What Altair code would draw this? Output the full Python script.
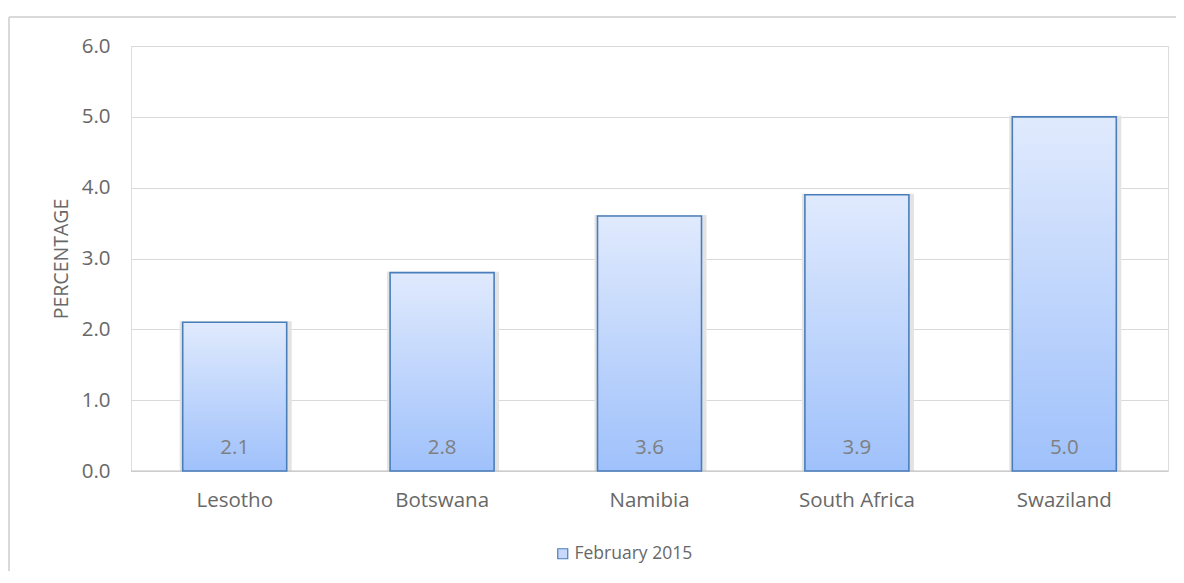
import altair as alt
import pandas as pd

countries = ["Lesotho", "Botswana", "Namibia", "South Africa", "Swaziland"]
values = [2.1, 2.8, 3.6, 3.9, 5.0]
series = ["February 2015"] * 5

df = pd.DataFrame({"country": countries, "value": values, "series": series})

FONT = "Open Sans"
W, H = 1037, 425
LABEL_GRAY = "#686868"

gradient = alt.Gradient(
    gradient="linear",
    stops=[alt.GradientStop(color="#e0eafd", offset=0),
           alt.GradientStop(color="#9fc1fb", offset=1)],
    x1=0, x2=0, y1=0, y2=1,
)

x = alt.X("country:N", sort=countries, title=None,
          scale=alt.Scale(paddingInner=0.5, paddingOuter=0.25),
          axis=alt.Axis(labelAngle=0, labelFontSize=20.5, labelColor=LABEL_GRAY,
                        labelFont=FONT, ticks=False, domain=False,
                        labelPadding=19, grid=False))
y = alt.Y("value:Q", title="PERCENTAGE",
          scale=alt.Scale(domain=[0, 6]),
          axis=alt.Axis(values=[0, 1, 2, 3, 4, 5, 6], format=".1f",
                        labelFontSize=20.5, labelColor=LABEL_GRAY, labelFont=FONT,
                        ticks=False, domain=False, labelPadding=21,
                        gridColor="#d9d9d9", gridWidth=1.2,
                        titleFont=FONT, titleFontSize=19.5, titleFontWeight="normal",
                        titleColor=LABEL_GRAY, titlePadding=10))

base = alt.Chart(df)

border_top = base.mark_rule(color="#d9d9d9", strokeWidth=1.5).encode(
    x=alt.value(-122), x2=alt.value(1045), y=alt.value(-29)
)
border_left = base.mark_rule(color="#d9d9d9", strokeWidth=1.5).encode(
    x=alt.value(-122), y=alt.value(-29), y2=alt.value(525)
)

shadow = base.mark_bar(color="#e3e3e3", size=112, xOffset=1, yOffset=-1).encode(
    x=x, y=y, y2=alt.datum(0)
)

bars = base.mark_bar(fill=gradient, stroke="#4a7ebb", strokeWidth=1.6, size=104).encode(
    x=x, y=y
)

legend_layer = base.mark_bar(opacity=0, size=1).encode(
    x=x, y=alt.datum(0),
    fill=alt.Fill("series:N", title=None,
                  scale=alt.Scale(range=["#c8dafb"]),
                  legend=alt.Legend(orient="none", legendX=423, legendY=499,
                                    symbolType="square", symbolSize=100,
                                    symbolStrokeColor="#4a7ebb", symbolStrokeWidth=1.2,
                                    symbolOpacity=1,
                                    labelFont=FONT, labelFontSize=17.5,
                                    labelColor=LABEL_GRAY, labelOffset=3))
)

labels = base.mark_text(font=FONT, fontSize=20.5, color="#7f7f7f",
                        baseline="middle", dy=-23).encode(
    x=x, y=alt.datum(0), text=alt.Text("value:Q", format=".1f")
)

zero = alt.Chart(pd.DataFrame({"v": [0]})).mark_rule(color="#bfbfbf", strokeWidth=1.2).encode(
    y=alt.Y("v:Q", scale=alt.Scale(domain=[0, 6]))
)

chart = alt.layer(border_top, border_left, shadow, zero, bars, labels, legend_layer).properties(
    width=W, height=H,
    autosize=alt.AutoSizeParams(type="none"),
    padding={"left": 123, "top": 38, "right": 8, "bottom": 100},
).configure_view(strokeWidth=0).configure(background="white")

chart.save("out.html", embed_options={"renderer": "svg", "actions": False})
